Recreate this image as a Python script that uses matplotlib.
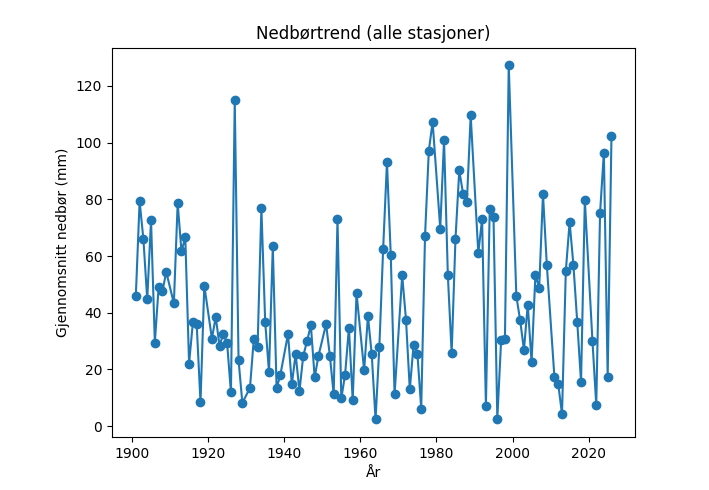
import matplotlib
matplotlib.use("Agg")
import matplotlib.pyplot as plt

# years 1901-2026, decade years are missing in the data
years = [y for y in range(1901, 2027) if y % 10 != 0]

nedbor = [
    45.8, 79.3, 65.9, 44.7, 72.6, 29.5, 49.1, 47.6, 54.4,
    43.3, 78.6, 61.7, 66.6, 22.1, 36.6, 35.9, 8.4, 49.6,
    30.9, 38.5, 28.4, 32.6, 29.2, 11.9, 114.9, 23.3, 8.2,
    13.5, 30.7, 28.0, 76.8, 36.8, 19.1, 63.4, 13.3, 18.2,
    32.5, 14.7, 25.5, 12.3, 24.8, 30.0, 35.6, 17.2, 24.8,
    36.0, 24.8, 11.2, 73.0, 9.8, 18.2, 34.7, 9.1, 47.0,
    19.7, 38.8, 25.3, 2.4, 28.0, 62.6, 93.1, 60.3, 11.2,
    53.2, 37.6, 13.0, 28.8, 25.6, 6.2, 67.0, 97.2, 107.3,
    69.7, 100.9, 53.2, 25.8, 65.9, 90.2, 82.0, 79.0, 109.6,
    61.1, 73.0, 7.2, 76.5, 73.6, 2.7, 30.3, 30.7, 127.3,
    45.9, 37.3, 26.9, 42.9, 22.5, 53.2, 48.9, 81.9, 57.0,
    17.4, 15.0, 4.2, 54.7, 72.0, 56.8, 36.8, 15.6, 79.7,
    30.0, 7.5, 75.2, 96.5, 17.3, 102.5,
]

fig = plt.figure(figsize=(7.09, 4.9), dpi=100)
ax = fig.add_axes([0.158, 0.108, 0.738, 0.795])

ax.plot(years, nedbor, marker='o')
ax.set_xlabel('År')
ax.set_ylabel('Gjennomsnitt nedbør (mm)')
ax.set_title('Nedbørtrend (alle stasjoner)')

fig.savefig('out.png', dpi=100)
